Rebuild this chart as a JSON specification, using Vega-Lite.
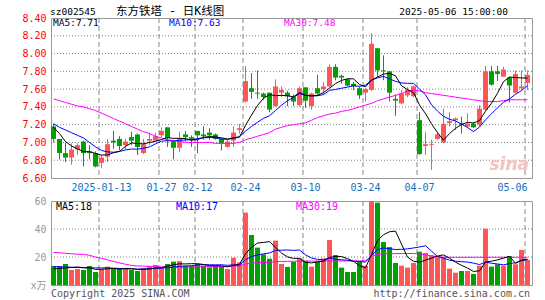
{
"$schema": "https://vega.github.io/schema/vega-lite/v6.json",
"background": "white",
"padding": {"left": 21, "top": 5, "right": 0, "bottom": 0},
"bounds": "flush",
"spacing": 23,
"config": {"view": {"stroke": "#999999", "strokeWidth": 1}, "font": "DejaVu Sans Mono"},
"data": {"values": [
{"d":"2024-12-31","o":7.18,"h":7.21,"l":7.00,"c":7.04,"v":13.6,"m5":7.17,"m10":7.21,"m30":7.49,"vm5":11.5,"vm10":13.1,"vm30":23.3},
{"d":"2025-01-02","o":7.04,"h":7.04,"l":6.81,"c":6.88,"v":13.6,"m5":7.10,"m10":7.17,"m30":7.47,"vm5":11.8,"vm10":13.0,"vm30":23.0},
{"d":"2025-01-03","o":6.88,"h":7.00,"l":6.78,"c":6.83,"v":15.0,"m5":7.01,"m10":7.14,"m30":7.45,"vm5":12.2,"vm10":12.9,"vm30":22.7},
{"d":"2025-01-06","o":6.83,"h":6.99,"l":6.75,"c":6.92,"v":10.7,"m5":6.96,"m10":7.11,"m30":7.43,"vm5":12.5,"vm10":12.7,"vm30":22.3},
{"d":"2025-01-07","o":6.92,"h":6.99,"l":6.86,"c":6.97,"v":11.4,"m5":6.928,"m10":7.08,"m30":7.41,"vm5":12.86,"vm10":12.5,"vm30":22.0},
{"d":"2025-01-08","o":7.01,"h":7.02,"l":6.73,"c":6.88,"v":10.7,"m5":6.896,"m10":7.05,"m30":7.40,"vm5":12.28,"vm10":12.4,"vm30":21.8},
{"d":"2025-01-09","o":6.90,"h":6.97,"l":6.81,"c":6.88,"v":13.6,"m5":6.896,"m10":7.00,"m30":7.38,"vm5":12.28,"vm10":12.3,"vm30":21.2},
{"d":"2025-01-10","o":6.88,"h":6.90,"l":6.72,"c":6.73,"v":9.3,"m5":6.876,"m10":6.95,"m30":7.36,"vm5":11.14,"vm10":12.2,"vm30":20.0},
{"d":"2025-01-13","o":6.77,"h":6.86,"l":6.71,"c":6.83,"v":11.4,"m5":6.858,"m10":6.91,"m30":7.33,"vm5":11.28,"vm10":12.2,"vm30":19.0},
{"d":"2025-01-14","o":6.84,"h":7.04,"l":6.78,"c":6.98,"v":13.1,"m5":6.86,"m10":6.894,"m30":7.30,"vm5":11.62,"vm10":12.24,"vm30":18.0},
{"d":"2025-01-15","o":7.02,"h":7.13,"l":6.93,"c":7.00,"v":11.4,"m5":6.884,"m10":6.89,"m30":7.27,"vm5":11.76,"vm10":12.02,"vm30":16.8},
{"d":"2025-01-16","o":7.04,"h":7.07,"l":6.91,"c":6.96,"v":11.9,"m5":6.90,"m10":6.898,"m30":7.24,"vm5":11.42,"vm10":11.85,"vm30":15.8},
{"d":"2025-01-17","o":6.97,"h":7.04,"l":6.92,"c":7.01,"v":11.4,"m5":6.956,"m10":6.916,"m30":7.21,"vm5":11.84,"vm10":11.49,"vm30":14.8},
{"d":"2025-01-20","o":7.06,"h":7.12,"l":6.97,"c":7.02,"v":10.7,"m5":6.994,"m10":6.926,"m30":7.18,"vm5":11.7,"vm10":11.49,"vm30":14.0},
{"d":"2025-01-21","o":7.09,"h":7.10,"l":6.86,"c":6.95,"v":10.0,"m5":6.988,"m10":6.924,"m30":7.15,"vm5":11.08,"vm10":11.35,"vm30":13.6},
{"d":"2025-01-22","o":6.88,"h":7.04,"l":6.87,"c":6.98,"v":11.9,"m5":6.984,"m10":6.934,"m30":7.12,"vm5":11.18,"vm10":11.47,"vm30":13.5},
{"d":"2025-01-23","o":7.02,"h":7.11,"l":6.97,"c":7.04,"v":13.6,"m5":7.00,"m10":6.95,"m30":7.10,"vm5":11.52,"vm10":11.47,"vm30":13.3},
{"d":"2025-01-24","o":7.02,"h":7.11,"l":7.01,"c":7.07,"v":14.3,"m5":7.012,"m10":6.984,"m30":7.07,"vm5":12.1,"vm10":11.97,"vm30":13.1},
{"d":"2025-01-27","o":7.08,"h":7.17,"l":7.06,"c":7.13,"v":12.6,"m5":7.034,"m10":7.014,"m30":7.05,"vm5":12.48,"vm10":12.09,"vm30":12.9},
{"d":"2025-02-05","o":7.17,"h":7.17,"l":6.95,"c":7.05,"v":15.0,"m5":7.054,"m10":7.021,"m30":7.03,"vm5":13.48,"vm10":12.28,"vm30":12.8},
{"d":"2025-02-06","o":7.01,"h":7.03,"l":6.81,"c":6.94,"v":16.7,"m5":7.046,"m10":7.015,"m30":7.02,"vm5":14.44,"vm10":12.81,"vm30":12.7},
{"d":"2025-02-07","o":6.94,"h":7.12,"l":6.89,"c":7.04,"v":17.1,"m5":7.046,"m10":7.023,"m30":7.01,"vm5":15.14,"vm10":13.33,"vm30":12.6},
{"d":"2025-02-10","o":7.09,"h":7.13,"l":7.01,"c":7.06,"v":13.8,"m5":7.044,"m10":7.028,"m30":7.00,"vm5":15.04,"vm10":13.57,"vm30":12.7},
{"d":"2025-02-11","o":7.06,"h":7.08,"l":6.95,"c":7.04,"v":13.6,"m5":7.026,"m10":7.03,"m30":7.00,"vm5":15.24,"vm10":13.86,"vm30":12.8},
{"d":"2025-02-12","o":7.13,"h":7.13,"l":6.88,"c":7.08,"v":15.0,"m5":7.032,"m10":7.043,"m30":7.00,"vm5":15.24,"vm10":14.36,"vm30":12.9},
{"d":"2025-02-13","o":7.09,"h":7.18,"l":7.03,"c":7.07,"v":13.8,"m5":7.058,"m10":7.052,"m30":7.00,"vm5":14.66,"vm10":14.55,"vm30":13.0},
{"d":"2025-02-14","o":7.11,"h":7.16,"l":7.03,"c":7.08,"v":12.6,"m5":7.066,"m10":7.056,"m30":7.00,"vm5":13.76,"vm10":14.45,"vm30":13.1},
{"d":"2025-02-17","o":7.09,"h":7.10,"l":7.03,"c":7.04,"v":13.8,"m5":7.062,"m10":7.053,"m30":6.99,"vm5":13.76,"vm10":14.4,"vm30":13.1},
{"d":"2025-02-18","o":7.04,"h":7.04,"l":6.91,"c":6.99,"v":13.1,"m5":7.052,"m10":7.039,"m30":6.99,"vm5":13.66,"vm10":14.45,"vm30":13.2},
{"d":"2025-02-19","o":6.95,"h":7.03,"l":6.94,"c":7.01,"v":11.4,"m5":7.038,"m10":7.035,"m30":6.99,"vm5":12.94,"vm10":14.09,"vm30":13.3},
{"d":"2025-02-20","o":7.02,"h":7.18,"l":6.95,"c":7.11,"v":19.5,"m5":7.046,"m10":7.052,"m30":6.99,"vm5":14.08,"vm10":14.37,"vm30":13.5},
{"d":"2025-02-21","o":7.14,"h":7.21,"l":7.10,"c":7.16,"v":16.2,"m5":7.062,"m10":7.064,"m30":7.00,"vm5":14.8,"vm10":14.28,"vm30":13.6},
{"d":"2025-02-24","o":7.46,"h":7.86,"l":7.45,"c":7.69,"v":51.7,"m5":7.192,"m10":7.127,"m30":7.03,"vm5":22.38,"vm10":18.07,"vm30":15.0},
{"d":"2025-02-25","o":7.61,"h":7.78,"l":7.49,"c":7.57,"v":35.7,"m5":7.308,"m10":7.18,"m30":7.05,"vm5":26.9,"vm10":20.28,"vm30":15.6},
{"d":"2025-02-26","o":7.56,"h":7.81,"l":7.49,"c":7.55,"v":26.7,"m5":7.416,"m10":7.227,"m30":7.07,"vm5":29.96,"vm10":21.45,"vm30":15.9},
{"d":"2025-02-27","o":7.55,"h":7.56,"l":7.48,"c":7.51,"v":21.9,"m5":7.496,"m10":7.271,"m30":7.09,"vm5":30.44,"vm10":22.26,"vm30":16.1},
{"d":"2025-02-28","o":7.56,"h":7.56,"l":7.34,"c":7.37,"v":18.8,"m5":7.538,"m10":7.30,"m30":7.11,"vm5":30.96,"vm10":22.88,"vm30":16.3},
{"d":"2025-03-03","o":7.41,"h":7.71,"l":7.40,"c":7.63,"v":31.7,"m5":7.526,"m10":7.359,"m30":7.15,"vm5":26.96,"vm10":24.67,"vm30":16.6},
{"d":"2025-03-04","o":7.56,"h":7.63,"l":7.51,"c":7.59,"v":15.0,"m5":7.53,"m10":7.419,"m30":7.17,"vm5":22.82,"vm10":24.86,"vm30":16.8},
{"d":"2025-03-05","o":7.56,"h":7.58,"l":7.41,"c":7.52,"v":12.9,"m5":7.524,"m10":7.47,"m30":7.19,"vm5":20.06,"vm10":25.01,"vm30":16.9},
{"d":"2025-03-06","o":7.51,"h":7.54,"l":7.41,"c":7.46,"v":16.5,"m5":7.514,"m10":7.505,"m30":7.20,"vm5":18.98,"vm10":24.71,"vm30":17.0},
{"d":"2025-03-07","o":7.42,"h":7.63,"l":7.40,"c":7.61,"v":19.0,"m5":7.562,"m10":7.55,"m30":7.21,"vm5":19.02,"vm10":24.99,"vm30":17.0},
{"d":"2025-03-10","o":7.62,"h":7.62,"l":7.39,"c":7.47,"v":17.4,"m5":7.53,"m10":7.528,"m30":7.22,"vm5":16.16,"vm10":21.56,"vm30":17.0},
{"d":"2025-03-11","o":7.41,"h":7.56,"l":7.37,"c":7.55,"v":13.1,"m5":7.522,"m10":7.526,"m30":7.25,"vm5":15.78,"vm10":19.3,"vm30":17.0},
{"d":"2025-03-12","o":7.61,"h":7.76,"l":7.52,"c":7.55,"v":16.7,"m5":7.528,"m10":7.526,"m30":7.28,"vm5":16.54,"vm10":18.3,"vm30":17.1},
{"d":"2025-03-13","o":7.60,"h":7.68,"l":7.54,"c":7.63,"v":19.0,"m5":7.562,"m10":7.538,"m30":7.30,"vm5":17.04,"vm10":18.01,"vm30":17.1},
{"d":"2025-03-14","o":7.63,"h":7.88,"l":7.62,"c":7.85,"v":32.1,"m5":7.61,"m10":7.586,"m30":7.32,"vm5":19.66,"vm10":19.34,"vm30":17.2},
{"d":"2025-03-17","o":7.85,"h":7.88,"l":7.70,"c":7.73,"v":21.4,"m5":7.662,"m10":7.596,"m30":7.33,"vm5":20.46,"vm10":18.31,"vm30":17.2},
{"d":"2025-03-18","o":7.75,"h":7.76,"l":7.66,"c":7.73,"v":12.4,"m5":7.698,"m10":7.61,"m30":7.35,"vm5":20.32,"vm10":18.05,"vm30":17.2},
{"d":"2025-03-19","o":7.71,"h":7.72,"l":7.63,"c":7.64,"v":9.3,"m5":7.716,"m10":7.622,"m30":7.36,"vm5":18.84,"vm10":17.69,"vm30":17.2},
{"d":"2025-03-20","o":7.66,"h":7.68,"l":7.59,"c":7.63,"v":9.3,"m5":7.716,"m10":7.639,"m30":7.38,"vm5":16.9,"vm10":16.97,"vm30":17.2},
{"d":"2025-03-21","o":7.61,"h":7.63,"l":7.49,"c":7.53,"v":16.7,"m5":7.652,"m10":7.631,"m30":7.40,"vm5":13.82,"vm10":16.74,"vm30":17.2},
{"d":"2025-03-24","o":7.56,"h":7.61,"l":7.46,"c":7.60,"v":13.6,"m5":7.626,"m10":7.644,"m30":7.42,"vm5":12.26,"vm10":16.36,"vm30":17.3},
{"d":"2025-03-25","o":7.59,"h":8.23,"l":7.58,"c":8.11,"v":60,"m5":7.702,"m10":7.70,"m30":7.44,"vm5":21.78,"vm10":21.05,"vm30":20.5},
{"d":"2025-03-26","o":8.06,"h":8.06,"l":7.74,"c":7.81,"v":58.8,"m5":7.736,"m10":7.726,"m30":7.47,"vm5":31.68,"vm10":25.26,"vm30":22.0},
{"d":"2025-03-27","o":7.81,"h":7.98,"l":7.70,"c":7.80,"v":30.7,"m5":7.77,"m10":7.743,"m30":7.49,"vm5":35.96,"vm10":26.43,"vm30":22.3},
{"d":"2025-03-28","o":7.80,"h":7.80,"l":7.46,"c":7.56,"v":27.1,"m5":7.776,"m10":7.714,"m30":7.51,"vm5":38.04,"vm10":25.93,"vm30":22.4},
{"d":"2025-03-31","o":7.49,"h":7.54,"l":7.30,"c":7.47,"v":15.7,"m5":7.75,"m10":7.688,"m30":7.53,"vm5":38.46,"vm10":25.36,"vm30":22.4},
{"d":"2025-04-01","o":7.44,"h":7.59,"l":7.43,"c":7.55,"v":13.8,"m5":7.638,"m10":7.67,"m30":7.55,"vm5":29.22,"vm10":25.5,"vm30":22.5},
{"d":"2025-04-02","o":7.53,"h":7.62,"l":7.51,"c":7.59,"v":12.4,"m5":7.594,"m10":7.665,"m30":7.58,"vm5":19.94,"vm10":25.81,"vm30":22.5},
{"d":"2025-04-03","o":7.52,"h":7.64,"l":7.51,"c":7.63,"v":15.7,"m5":7.56,"m10":7.665,"m30":7.59,"vm5":16.94,"vm10":26.45,"vm30":22.5},
{"d":"2025-04-07","o":7.25,"h":7.34,"l":6.86,"c":6.87,"v":23.8,"m5":7.422,"m10":7.599,"m30":7.58,"vm5":16.28,"vm10":27.16,"vm30":22.3},
{"d":"2025-04-08","o":6.96,"h":7.12,"l":6.86,"c":6.98,"v":22.9,"m5":7.324,"m10":7.537,"m30":7.56,"vm5":17.72,"vm10":28.09,"vm30":21.5},
{"d":"2025-04-09","o":6.97,"h":7.03,"l":6.69,"c":6.98,"v":21.2,"m5":7.21,"m10":7.424,"m30":7.55,"vm5":19.2,"vm10":24.21,"vm30":20.8},
{"d":"2025-04-10","o":7.04,"h":7.12,"l":7.03,"c":7.09,"v":19.8,"m5":7.11,"m10":7.352,"m30":7.54,"vm5":20.68,"vm10":20.31,"vm30":20.2},
{"d":"2025-04-11","o":7.00,"h":7.38,"l":6.99,"c":7.21,"v":20.0,"m5":7.026,"m10":7.293,"m30":7.53,"vm5":21.54,"vm10":19.24,"vm30":19.9},
{"d":"2025-04-14","o":7.22,"h":7.34,"l":7.18,"c":7.24,"v":11.7,"m5":7.10,"m10":7.261,"m30":7.52,"vm5":19.12,"vm10":17.7,"vm30":19.8},
{"d":"2025-04-15","o":7.25,"h":7.28,"l":7.14,"c":7.27,"v":8.8,"m5":7.158,"m10":7.241,"m30":7.51,"vm5":16.3,"vm10":17.01,"vm30":19.8},
{"d":"2025-04-16","o":7.21,"h":7.29,"l":7.10,"c":7.20,"v":10.0,"m5":7.202,"m10":7.206,"m30":7.50,"vm5":14.06,"vm10":16.63,"vm30":19.8},
{"d":"2025-04-17","o":7.18,"h":7.33,"l":7.16,"c":7.21,"v":10.0,"m5":7.226,"m10":7.168,"m30":7.49,"vm5":12.1,"vm10":16.39,"vm30":19.8},
{"d":"2025-04-18","o":7.21,"h":7.23,"l":7.16,"c":7.17,"v":7.9,"m5":7.218,"m10":7.122,"m30":7.48,"vm5":9.68,"vm10":15.61,"vm30":19.8},
{"d":"2025-04-21","o":7.20,"h":7.42,"l":7.18,"c":7.38,"v":13.8,"m5":7.246,"m10":7.173,"m30":7.47,"vm5":10.1,"vm10":14.61,"vm30":19.8},
{"d":"2025-04-22","o":7.37,"h":7.86,"l":7.36,"c":7.80,"v":40.2,"m5":7.352,"m10":7.255,"m30":7.46,"vm5":16.38,"vm10":16.34,"vm30":19.8},
{"d":"2025-04-23","o":7.80,"h":7.86,"l":7.64,"c":7.65,"v":13.1,"m5":7.442,"m10":7.322,"m30":7.46,"vm5":17.0,"vm10":15.53,"vm30":19.8},
{"d":"2025-04-24","o":7.80,"h":7.86,"l":7.69,"c":7.77,"v":14.8,"m5":7.554,"m10":7.39,"m30":7.46,"vm5":17.96,"vm10":15.03,"vm30":19.8},
{"d":"2025-04-25","o":7.74,"h":7.85,"l":7.74,"c":7.82,"v":13.8,"m5":7.684,"m10":7.451,"m30":7.47,"vm5":19.14,"vm10":14.41,"vm30":19.8},
{"d":"2025-04-28","o":7.73,"h":7.74,"l":7.45,"c":7.64,"v":20.7,"m5":7.736,"m10":7.491,"m30":7.48,"vm5":20.52,"vm10":15.31,"vm30":19.8},
{"d":"2025-04-29","o":7.56,"h":7.81,"l":7.55,"c":7.77,"v":14.8,"m5":7.73,"m10":7.541,"m30":7.48,"vm5":15.44,"vm10":15.91,"vm30":19.8},
{"d":"2025-04-30","o":7.61,"h":7.81,"l":7.59,"c":7.63,"v":25.0,"m5":7.726,"m10":7.584,"m30":7.48,"vm5":17.82,"vm10":17.41,"vm30":19.8},
{"d":"2025-05-06","o":7.67,"h":7.81,"l":7.59,"c":7.76,"v":17.9,"m5":7.724,"m10":7.639,"m30":7.48,"vm5":18.44,"vm10":18.2,"vm30":19.8}
]},
"vconcat": [
{
"width": 481, "height": 160,
"layer": [
 {"data": {"values": [{"d":"2025-01-13"},{"d":"2025-01-27"},{"d":"2025-02-12"},{"d":"2025-02-24"},{"d":"2025-03-10"},{"d":"2025-03-24"},{"d":"2025-04-07"},{"d":"2025-05-06"}]},
  "mark": {"type": "rule", "color": "#888888", "strokeDash": [5, 3], "strokeWidth": 1},
  "encoding": {"x": {"field": "d", "type": "ordinal", "bandPosition": 0, "scale": {"paddingInner": 0.1667, "paddingOuter": 0.1667, "align": 0}, "axis": {"title": null, "values": ["2025-01-13","2025-01-27","2025-02-12","2025-02-24","2025-03-10","2025-03-24","2025-04-07","2025-05-06"], "bandPosition": 0, "labelExpr": "datum.value == '2025-01-13' ? datum.value : slice(datum.value, 5)", "labelAngle": 0, "labelAlign": {"condition": {"test": "datum.value == '2025-05-06'", "value": "right"}, "value": "center"}, "labelColor": "#1070c0", "labelFont": "DejaVu Sans Mono", "labelFontSize": 10, "labelPadding": 4, "ticks": false, "domain": false, "grid": false, "labelOverlap": false, "labelBound": false, "labelFlush": false}}}},
 {"data": {"values": [{"g":6.8},{"g":7.0},{"g":7.2},{"g":7.4},{"g":7.6},{"g":7.8},{"g":8.0},{"g":8.2}]},
  "mark": {"type": "rule", "color": "#808080", "strokeDash": [1, 2], "strokeWidth": 1},
  "encoding": {"y": {"field": "g", "type": "quantitative", "scale": {"domain": [6.6, 8.4], "nice": false, "zero": false},
     "axis": {"title": null, "values": [6.6,6.8,7.0,7.2,7.4,7.6,7.8,8.0,8.2,8.4], "format": ".2f", "labelColor": "#ff0000", "labelFont": "DejaVu Sans Mono", "labelFontSize": 10, "labelPadding": 5, "ticks": false, "domain": false, "grid": false, "labelOverlap": false}}}},
 {"mark": {"type": "rule", "strokeWidth": 1},
  "encoding": {"x": {"field": "d", "type": "ordinal", "scale": {"paddingInner": 0.1667, "paddingOuter": 0.1667, "align": 0}, "axis": {"title": null, "values": ["2025-01-13","2025-01-27","2025-02-12","2025-02-24","2025-03-10","2025-03-24","2025-04-07","2025-05-06"], "bandPosition": 0, "labelExpr": "datum.value == '2025-01-13' ? datum.value : slice(datum.value, 5)", "labelAngle": 0, "labelAlign": {"condition": {"test": "datum.value == '2025-05-06'", "value": "right"}, "value": "center"}, "labelColor": "#1070c0", "labelFont": "DejaVu Sans Mono", "labelFontSize": 10, "labelPadding": 4, "ticks": false, "domain": false, "grid": false, "labelOverlap": false, "labelBound": false, "labelFlush": false}},
   "y": {"field": "l", "type": "quantitative", "scale": {"domain": [6.6, 8.4], "nice": false, "zero": false},
     "axis": {"title": null, "values": [6.6,6.8,7.0,7.2,7.4,7.6,7.8,8.0,8.2,8.4], "format": ".2f", "labelColor": "#ff0000", "labelFont": "DejaVu Sans Mono", "labelFontSize": 10, "labelPadding": 5, "ticks": false, "domain": false, "grid": false, "labelOverlap": false}},
   "y2": {"field": "h"},
   "color": {"condition": {"test": "datum.c >= datum.o", "value": "#ff5555"}, "value": "#00a000"}}},
 {"mark": {"type": "bar"},
  "encoding": {"x": {"field": "d", "type": "ordinal", "scale": {"paddingInner": 0.1667, "paddingOuter": 0.1667, "align": 0}, "axis": {"title": null, "values": ["2025-01-13","2025-01-27","2025-02-12","2025-02-24","2025-03-10","2025-03-24","2025-04-07","2025-05-06"], "bandPosition": 0, "labelExpr": "datum.value == '2025-01-13' ? datum.value : slice(datum.value, 5)", "labelAngle": 0, "labelAlign": {"condition": {"test": "datum.value == '2025-05-06'", "value": "right"}, "value": "center"}, "labelColor": "#1070c0", "labelFont": "DejaVu Sans Mono", "labelFontSize": 10, "labelPadding": 4, "ticks": false, "domain": false, "grid": false, "labelOverlap": false, "labelBound": false, "labelFlush": false}},
   "y": {"field": "o", "type": "quantitative", "scale": {"domain": [6.6, 8.4], "nice": false, "zero": false},
     "axis": {"title": null, "values": [6.6,6.8,7.0,7.2,7.4,7.6,7.8,8.0,8.2,8.4], "format": ".2f", "labelColor": "#ff0000", "labelFont": "DejaVu Sans Mono", "labelFontSize": 10, "labelPadding": 5, "ticks": false, "domain": false, "grid": false, "labelOverlap": false}},
   "y2": {"field": "c"},
   "color": {"condition": {"test": "datum.c >= datum.o", "value": "#ff5555"}, "value": "#00a000"}}},
 {"mark": {"type": "line", "color": "#ff00ff", "strokeWidth": 1},
  "encoding": {"x": {"field": "d", "type": "ordinal", "scale": {"paddingInner": 0.1667, "paddingOuter": 0.1667, "align": 0}, "axis": {"title": null, "values": ["2025-01-13","2025-01-27","2025-02-12","2025-02-24","2025-03-10","2025-03-24","2025-04-07","2025-05-06"], "bandPosition": 0, "labelExpr": "datum.value == '2025-01-13' ? datum.value : slice(datum.value, 5)", "labelAngle": 0, "labelAlign": {"condition": {"test": "datum.value == '2025-05-06'", "value": "right"}, "value": "center"}, "labelColor": "#1070c0", "labelFont": "DejaVu Sans Mono", "labelFontSize": 10, "labelPadding": 4, "ticks": false, "domain": false, "grid": false, "labelOverlap": false, "labelBound": false, "labelFlush": false}},
   "y": {"field": "m30", "type": "quantitative", "scale": {"domain": [6.6, 8.4], "nice": false, "zero": false},
     "axis": {"title": null, "values": [6.6,6.8,7.0,7.2,7.4,7.6,7.8,8.0,8.2,8.4], "format": ".2f", "labelColor": "#ff0000", "labelFont": "DejaVu Sans Mono", "labelFontSize": 10, "labelPadding": 5, "ticks": false, "domain": false, "grid": false, "labelOverlap": false}}}},
 {"mark": {"type": "line", "color": "#0000ff", "strokeWidth": 1},
  "encoding": {"x": {"field": "d", "type": "ordinal", "scale": {"paddingInner": 0.1667, "paddingOuter": 0.1667, "align": 0}, "axis": {"title": null, "values": ["2025-01-13","2025-01-27","2025-02-12","2025-02-24","2025-03-10","2025-03-24","2025-04-07","2025-05-06"], "bandPosition": 0, "labelExpr": "datum.value == '2025-01-13' ? datum.value : slice(datum.value, 5)", "labelAngle": 0, "labelAlign": {"condition": {"test": "datum.value == '2025-05-06'", "value": "right"}, "value": "center"}, "labelColor": "#1070c0", "labelFont": "DejaVu Sans Mono", "labelFontSize": 10, "labelPadding": 4, "ticks": false, "domain": false, "grid": false, "labelOverlap": false, "labelBound": false, "labelFlush": false}},
   "y": {"field": "m10", "type": "quantitative", "scale": {"domain": [6.6, 8.4], "nice": false, "zero": false},
     "axis": {"title": null, "values": [6.6,6.8,7.0,7.2,7.4,7.6,7.8,8.0,8.2,8.4], "format": ".2f", "labelColor": "#ff0000", "labelFont": "DejaVu Sans Mono", "labelFontSize": 10, "labelPadding": 5, "ticks": false, "domain": false, "grid": false, "labelOverlap": false}}}},
 {"mark": {"type": "line", "color": "#000000", "strokeWidth": 1},
  "encoding": {"x": {"field": "d", "type": "ordinal", "scale": {"paddingInner": 0.1667, "paddingOuter": 0.1667, "align": 0}, "axis": {"title": null, "values": ["2025-01-13","2025-01-27","2025-02-12","2025-02-24","2025-03-10","2025-03-24","2025-04-07","2025-05-06"], "bandPosition": 0, "labelExpr": "datum.value == '2025-01-13' ? datum.value : slice(datum.value, 5)", "labelAngle": 0, "labelAlign": {"condition": {"test": "datum.value == '2025-05-06'", "value": "right"}, "value": "center"}, "labelColor": "#1070c0", "labelFont": "DejaVu Sans Mono", "labelFontSize": 10, "labelPadding": 4, "ticks": false, "domain": false, "grid": false, "labelOverlap": false, "labelBound": false, "labelFlush": false}},
   "y": {"field": "m5", "type": "quantitative", "scale": {"domain": [6.6, 8.4], "nice": false, "zero": false},
     "axis": {"title": null, "values": [6.6,6.8,7.0,7.2,7.4,7.6,7.8,8.0,8.2,8.4], "format": ".2f", "labelColor": "#ff0000", "labelFont": "DejaVu Sans Mono", "labelFontSize": 10, "labelPadding": 5, "ticks": false, "domain": false, "grid": false, "labelOverlap": false}}}},
 {"data": {"values": [{}]}, "mark": {"type": "text", "align": "left", "baseline": "alphabetic", "dx": -1, "dy": -3, "fontSize": 9.5, "font": "DejaVu Sans Mono", "color": "#000000"},
  "encoding": {"x": {"datum": "2024-12-31", "type": "ordinal", "bandPosition": 0, "axis": {"title": null, "values": ["2025-01-13","2025-01-27","2025-02-12","2025-02-24","2025-03-10","2025-03-24","2025-04-07","2025-05-06"], "bandPosition": 0, "labelExpr": "datum.value == '2025-01-13' ? datum.value : slice(datum.value, 5)", "labelAngle": 0, "labelAlign": {"condition": {"test": "datum.value == '2025-05-06'", "value": "right"}, "value": "center"}, "labelColor": "#1070c0", "labelFont": "DejaVu Sans Mono", "labelFontSize": 10, "labelPadding": 4, "ticks": false, "domain": false, "grid": false, "labelOverlap": false, "labelBound": false, "labelFlush": false}},
   "y": {"datum": 8.4, "type": "quantitative", "axis": {"title": null, "values": [6.6,6.8,7.0,7.2,7.4,7.6,7.8,8.0,8.2,8.4], "format": ".2f", "labelColor": "#ff0000", "labelFont": "DejaVu Sans Mono", "labelFontSize": 10, "labelPadding": 5, "ticks": false, "domain": false, "grid": false, "labelOverlap": false}}, "text": {"value": "sz002545"}}},
 {"data": {"values": [{}]}, "mark": {"type": "text", "align": "left", "baseline": "alphabetic", "dx": -1, "dy": -3, "fontSize": 11.5, "font": "DejaVu Sans Mono, Noto Sans CJK SC", "color": "#000000"},
  "encoding": {"x": {"datum": "2025-01-16", "type": "ordinal", "bandPosition": 0, "axis": {"title": null, "values": ["2025-01-13","2025-01-27","2025-02-12","2025-02-24","2025-03-10","2025-03-24","2025-04-07","2025-05-06"], "bandPosition": 0, "labelExpr": "datum.value == '2025-01-13' ? datum.value : slice(datum.value, 5)", "labelAngle": 0, "labelAlign": {"condition": {"test": "datum.value == '2025-05-06'", "value": "right"}, "value": "center"}, "labelColor": "#1070c0", "labelFont": "DejaVu Sans Mono", "labelFontSize": 10, "labelPadding": 4, "ticks": false, "domain": false, "grid": false, "labelOverlap": false, "labelBound": false, "labelFlush": false}},
   "y": {"datum": 8.4, "type": "quantitative", "axis": {"title": null, "values": [6.6,6.8,7.0,7.2,7.4,7.6,7.8,8.0,8.2,8.4], "format": ".2f", "labelColor": "#ff0000", "labelFont": "DejaVu Sans Mono", "labelFontSize": 10, "labelPadding": 5, "ticks": false, "domain": false, "grid": false, "labelOverlap": false}}, "text": {"value": "东方铁塔 - 日K线图"}}},
 {"data": {"values": [{}]}, "mark": {"type": "text", "align": "right", "baseline": "alphabetic", "dx": 1, "dy": -3, "fontSize": 9.5, "font": "DejaVu Sans Mono", "color": "#000000"},
  "encoding": {"x": {"datum": "2025-04-28", "type": "ordinal", "bandPosition": 0, "axis": {"title": null, "values": ["2025-01-13","2025-01-27","2025-02-12","2025-02-24","2025-03-10","2025-03-24","2025-04-07","2025-05-06"], "bandPosition": 0, "labelExpr": "datum.value == '2025-01-13' ? datum.value : slice(datum.value, 5)", "labelAngle": 0, "labelAlign": {"condition": {"test": "datum.value == '2025-05-06'", "value": "right"}, "value": "center"}, "labelColor": "#1070c0", "labelFont": "DejaVu Sans Mono", "labelFontSize": 10, "labelPadding": 4, "ticks": false, "domain": false, "grid": false, "labelOverlap": false, "labelBound": false, "labelFlush": false}},
   "y": {"datum": 8.4, "type": "quantitative", "axis": {"title": null, "values": [6.6,6.8,7.0,7.2,7.4,7.6,7.8,8.0,8.2,8.4], "format": ".2f", "labelColor": "#ff0000", "labelFont": "DejaVu Sans Mono", "labelFontSize": 10, "labelPadding": 5, "ticks": false, "domain": false, "grid": false, "labelOverlap": false}}, "text": {"value": "2025-05-06 15:00:00"}}},
 {"data": {"values": [{}]}, "mark": {"type": "text", "align": "left", "baseline": "alphabetic", "dx": 2, "dy": 8, "fontSize": 9.5, "font": "DejaVu Sans Mono", "color": "#000000"},
  "encoding": {"x": {"datum": "2024-12-31", "type": "ordinal", "bandPosition": 0, "axis": {"title": null, "values": ["2025-01-13","2025-01-27","2025-02-12","2025-02-24","2025-03-10","2025-03-24","2025-04-07","2025-05-06"], "bandPosition": 0, "labelExpr": "datum.value == '2025-01-13' ? datum.value : slice(datum.value, 5)", "labelAngle": 0, "labelAlign": {"condition": {"test": "datum.value == '2025-05-06'", "value": "right"}, "value": "center"}, "labelColor": "#1070c0", "labelFont": "DejaVu Sans Mono", "labelFontSize": 10, "labelPadding": 4, "ticks": false, "domain": false, "grid": false, "labelOverlap": false, "labelBound": false, "labelFlush": false}},
   "y": {"datum": 8.4, "type": "quantitative", "axis": {"title": null, "values": [6.6,6.8,7.0,7.2,7.4,7.6,7.8,8.0,8.2,8.4], "format": ".2f", "labelColor": "#ff0000", "labelFont": "DejaVu Sans Mono", "labelFontSize": 10, "labelPadding": 5, "ticks": false, "domain": false, "grid": false, "labelOverlap": false}}, "text": {"value": "MA5:7.71"}}},
 {"data": {"values": [{}]}, "mark": {"type": "text", "align": "left", "baseline": "alphabetic", "dx": -2, "dy": 8, "fontSize": 9.5, "font": "DejaVu Sans Mono", "color": "#0000ff"},
  "encoding": {"x": {"datum": "2025-02-06", "type": "ordinal", "bandPosition": 0, "axis": {"title": null, "values": ["2025-01-13","2025-01-27","2025-02-12","2025-02-24","2025-03-10","2025-03-24","2025-04-07","2025-05-06"], "bandPosition": 0, "labelExpr": "datum.value == '2025-01-13' ? datum.value : slice(datum.value, 5)", "labelAngle": 0, "labelAlign": {"condition": {"test": "datum.value == '2025-05-06'", "value": "right"}, "value": "center"}, "labelColor": "#1070c0", "labelFont": "DejaVu Sans Mono", "labelFontSize": 10, "labelPadding": 4, "ticks": false, "domain": false, "grid": false, "labelOverlap": false, "labelBound": false, "labelFlush": false}},
   "y": {"datum": 8.4, "type": "quantitative", "axis": {"title": null, "values": [6.6,6.8,7.0,7.2,7.4,7.6,7.8,8.0,8.2,8.4], "format": ".2f", "labelColor": "#ff0000", "labelFont": "DejaVu Sans Mono", "labelFontSize": 10, "labelPadding": 5, "ticks": false, "domain": false, "grid": false, "labelOverlap": false}}, "text": {"value": "MA10:7.63"}}},
 {"data": {"values": [{}]}, "mark": {"type": "text", "align": "left", "baseline": "alphabetic", "dx": -1, "dy": 8, "fontSize": 9.5, "font": "DejaVu Sans Mono", "color": "#ff00ff"},
  "encoding": {"x": {"datum": "2025-03-05", "type": "ordinal", "bandPosition": 0, "axis": {"title": null, "values": ["2025-01-13","2025-01-27","2025-02-12","2025-02-24","2025-03-10","2025-03-24","2025-04-07","2025-05-06"], "bandPosition": 0, "labelExpr": "datum.value == '2025-01-13' ? datum.value : slice(datum.value, 5)", "labelAngle": 0, "labelAlign": {"condition": {"test": "datum.value == '2025-05-06'", "value": "right"}, "value": "center"}, "labelColor": "#1070c0", "labelFont": "DejaVu Sans Mono", "labelFontSize": 10, "labelPadding": 4, "ticks": false, "domain": false, "grid": false, "labelOverlap": false, "labelBound": false, "labelFlush": false}},
   "y": {"datum": 8.4, "type": "quantitative", "axis": {"title": null, "values": [6.6,6.8,7.0,7.2,7.4,7.6,7.8,8.0,8.2,8.4], "format": ".2f", "labelColor": "#ff0000", "labelFont": "DejaVu Sans Mono", "labelFontSize": 10, "labelPadding": 5, "ticks": false, "domain": false, "grid": false, "labelOverlap": false}}, "text": {"value": "MA30:7.48"}}},
 {"data": {"values": [{}]}, "mark": {"type": "text", "align": "right", "baseline": "alphabetic", "dx": 4, "dy": -8, "fontSize": 17, "font": "DejaVu Sans", "fontStyle": "italic", "fontWeight": "bold", "color": "#f2c4c4"},
  "encoding": {"x": {"datum": "2025-05-06", "type": "ordinal", "bandPosition": 0, "axis": {"title": null, "values": ["2025-01-13","2025-01-27","2025-02-12","2025-02-24","2025-03-10","2025-03-24","2025-04-07","2025-05-06"], "bandPosition": 0, "labelExpr": "datum.value == '2025-01-13' ? datum.value : slice(datum.value, 5)", "labelAngle": 0, "labelAlign": {"condition": {"test": "datum.value == '2025-05-06'", "value": "right"}, "value": "center"}, "labelColor": "#1070c0", "labelFont": "DejaVu Sans Mono", "labelFontSize": 10, "labelPadding": 4, "ticks": false, "domain": false, "grid": false, "labelOverlap": false, "labelBound": false, "labelFlush": false}},
   "y": {"datum": 6.6, "type": "quantitative", "axis": {"title": null, "values": [6.6,6.8,7.0,7.2,7.4,7.6,7.8,8.0,8.2,8.4], "format": ".2f", "labelColor": "#ff0000", "labelFont": "DejaVu Sans Mono", "labelFontSize": 10, "labelPadding": 5, "ticks": false, "domain": false, "grid": false, "labelOverlap": false}}, "text": {"value": "sina"}}}
]
},
{
"width": 481, "height": 84,
"layer": [
 {"data": {"values": [{"d":"2025-01-13"},{"d":"2025-01-27"},{"d":"2025-02-12"},{"d":"2025-02-24"},{"d":"2025-03-10"},{"d":"2025-03-24"},{"d":"2025-04-07"},{"d":"2025-05-06"}]},
  "mark": {"type": "rule", "color": "#888888", "strokeDash": [5, 3], "strokeWidth": 1},
  "encoding": {"x": {"field": "d", "type": "ordinal", "bandPosition": 0, "scale": {"paddingInner": 0.1667, "paddingOuter": 0.1667, "align": 0}, "axis": {"title": null, "values": ["2025-01-13"], "bandPosition": 0, "labels": false, "ticks": false, "domain": false, "grid": false}}}},
 {"data": {"values": [{"g":20},{"g":40}]},
  "mark": {"type": "rule", "color": "#808080", "strokeDash": [1, 2], "strokeWidth": 1},
  "encoding": {"y": {"field": "g", "type": "quantitative", "scale": {"domain": [0, 60], "nice": false},
     "axis": {"title": null, "values": [0, 20, 40, 60], "labelExpr": "datum.value == 0 ? 'x万' : datum.label", "labelColor": "#999999", "labelFont": "DejaVu Sans Mono, Noto Sans CJK SC", "labelFontSize": 10, "labelPadding": 5, "ticks": false, "domain": false, "grid": false, "labelOverlap": false}}}},
 {"mark": {"type": "bar"},
  "encoding": {"x": {"field": "d", "type": "ordinal", "scale": {"paddingInner": 0.1667, "paddingOuter": 0.1667, "align": 0}, "axis": {"title": null, "values": ["2025-01-13"], "bandPosition": 0, "labels": false, "ticks": false, "domain": false, "grid": false}},
   "y": {"field": "v", "type": "quantitative", "scale": {"domain": [0, 60], "nice": false},
     "axis": {"title": null, "values": [0, 20, 40, 60], "labelExpr": "datum.value == 0 ? 'x万' : datum.label", "labelColor": "#999999", "labelFont": "DejaVu Sans Mono, Noto Sans CJK SC", "labelFontSize": 10, "labelPadding": 5, "ticks": false, "domain": false, "grid": false, "labelOverlap": false}},
   "color": {"condition": {"test": "datum.c >= datum.o", "value": "#ff5555"}, "value": "#00a000"}}},
 {"mark": {"type": "line", "color": "#ff00ff", "strokeWidth": 1},
  "encoding": {"x": {"field": "d", "type": "ordinal", "scale": {"paddingInner": 0.1667, "paddingOuter": 0.1667, "align": 0}, "axis": {"title": null, "values": ["2025-01-13"], "bandPosition": 0, "labels": false, "ticks": false, "domain": false, "grid": false}},
   "y": {"field": "vm30", "type": "quantitative", "scale": {"domain": [0, 60], "nice": false},
     "axis": {"title": null, "values": [0, 20, 40, 60], "labelExpr": "datum.value == 0 ? 'x万' : datum.label", "labelColor": "#999999", "labelFont": "DejaVu Sans Mono, Noto Sans CJK SC", "labelFontSize": 10, "labelPadding": 5, "ticks": false, "domain": false, "grid": false, "labelOverlap": false}}}},
 {"mark": {"type": "line", "color": "#0000ff", "strokeWidth": 1},
  "encoding": {"x": {"field": "d", "type": "ordinal", "scale": {"paddingInner": 0.1667, "paddingOuter": 0.1667, "align": 0}, "axis": {"title": null, "values": ["2025-01-13"], "bandPosition": 0, "labels": false, "ticks": false, "domain": false, "grid": false}},
   "y": {"field": "vm10", "type": "quantitative", "scale": {"domain": [0, 60], "nice": false},
     "axis": {"title": null, "values": [0, 20, 40, 60], "labelExpr": "datum.value == 0 ? 'x万' : datum.label", "labelColor": "#999999", "labelFont": "DejaVu Sans Mono, Noto Sans CJK SC", "labelFontSize": 10, "labelPadding": 5, "ticks": false, "domain": false, "grid": false, "labelOverlap": false}}}},
 {"mark": {"type": "line", "color": "#000000", "strokeWidth": 1},
  "encoding": {"x": {"field": "d", "type": "ordinal", "scale": {"paddingInner": 0.1667, "paddingOuter": 0.1667, "align": 0}, "axis": {"title": null, "values": ["2025-01-13"], "bandPosition": 0, "labels": false, "ticks": false, "domain": false, "grid": false}},
   "y": {"field": "vm5", "type": "quantitative", "scale": {"domain": [0, 60], "nice": false},
     "axis": {"title": null, "values": [0, 20, 40, 60], "labelExpr": "datum.value == 0 ? 'x万' : datum.label", "labelColor": "#999999", "labelFont": "DejaVu Sans Mono, Noto Sans CJK SC", "labelFontSize": 10, "labelPadding": 5, "ticks": false, "domain": false, "grid": false, "labelOverlap": false}}}},
 {"data": {"values": [{}]}, "mark": {"type": "text", "align": "left", "baseline": "alphabetic", "dx": 5, "dy": 9, "fontSize": 10, "font": "DejaVu Sans Mono", "color": "#000000"},
  "encoding": {"x": {"datum": "2024-12-31", "type": "ordinal", "bandPosition": 0, "axis": {"title": null, "values": ["2025-01-13"], "bandPosition": 0, "labels": false, "ticks": false, "domain": false, "grid": false}},
   "y": {"datum": 60, "type": "quantitative", "axis": {"title": null, "values": [0, 20, 40, 60], "labelExpr": "datum.value == 0 ? 'x万' : datum.label", "labelColor": "#999999", "labelFont": "DejaVu Sans Mono, Noto Sans CJK SC", "labelFontSize": 10, "labelPadding": 5, "ticks": false, "domain": false, "grid": false, "labelOverlap": false}}, "text": {"value": "MA5:18"}}},
 {"data": {"values": [{}]}, "mark": {"type": "text", "align": "left", "baseline": "alphabetic", "dx": -1, "dy": 9, "fontSize": 10, "font": "DejaVu Sans Mono", "color": "#0000ff"},
  "encoding": {"x": {"datum": "2025-02-07", "type": "ordinal", "bandPosition": 0, "axis": {"title": null, "values": ["2025-01-13"], "bandPosition": 0, "labels": false, "ticks": false, "domain": false, "grid": false}},
   "y": {"datum": 60, "type": "quantitative", "axis": {"title": null, "values": [0, 20, 40, 60], "labelExpr": "datum.value == 0 ? 'x万' : datum.label", "labelColor": "#999999", "labelFont": "DejaVu Sans Mono, Noto Sans CJK SC", "labelFontSize": 10, "labelPadding": 5, "ticks": false, "domain": false, "grid": false, "labelOverlap": false}}, "text": {"value": "MA10:17"}}},
 {"data": {"values": [{}]}, "mark": {"type": "text", "align": "left", "baseline": "alphabetic", "dx": -1, "dy": 9, "fontSize": 10, "font": "DejaVu Sans Mono", "color": "#ff00ff"},
  "encoding": {"x": {"datum": "2025-03-07", "type": "ordinal", "bandPosition": 0, "axis": {"title": null, "values": ["2025-01-13"], "bandPosition": 0, "labels": false, "ticks": false, "domain": false, "grid": false}},
   "y": {"datum": 60, "type": "quantitative", "axis": {"title": null, "values": [0, 20, 40, 60], "labelExpr": "datum.value == 0 ? 'x万' : datum.label", "labelColor": "#999999", "labelFont": "DejaVu Sans Mono, Noto Sans CJK SC", "labelFontSize": 10, "labelPadding": 5, "ticks": false, "domain": false, "grid": false, "labelOverlap": false}}, "text": {"value": "MA30:19"}}},
 {"data": {"values": [{}]}, "mark": {"type": "text", "align": "left", "baseline": "alphabetic", "dx": 0, "dy": 12, "fontSize": 10, "font": "DejaVu Sans Mono", "color": "#555555"},
  "encoding": {"x": {"datum": "2024-12-31", "type": "ordinal", "bandPosition": 0, "axis": {"title": null, "values": ["2025-01-13"], "bandPosition": 0, "labels": false, "ticks": false, "domain": false, "grid": false}},
   "y": {"datum": 0, "type": "quantitative", "axis": {"title": null, "values": [0, 20, 40, 60], "labelExpr": "datum.value == 0 ? 'x万' : datum.label", "labelColor": "#999999", "labelFont": "DejaVu Sans Mono, Noto Sans CJK SC", "labelFontSize": 10, "labelPadding": 5, "ticks": false, "domain": false, "grid": false, "labelOverlap": false}}, "text": {"value": "Copyright 2025 SINA.COM"}}},
 {"data": {"values": [{}]}, "mark": {"type": "text", "align": "right", "baseline": "alphabetic", "dx": 5, "dy": 12, "fontSize": 10, "font": "DejaVu Sans Mono", "color": "#555555"},
  "encoding": {"x": {"datum": "2025-05-06", "type": "ordinal", "bandPosition": 0, "axis": {"title": null, "values": ["2025-01-13"], "bandPosition": 0, "labels": false, "ticks": false, "domain": false, "grid": false}},
   "y": {"datum": 0, "type": "quantitative", "axis": {"title": null, "values": [0, 20, 40, 60], "labelExpr": "datum.value == 0 ? 'x万' : datum.label", "labelColor": "#999999", "labelFont": "DejaVu Sans Mono, Noto Sans CJK SC", "labelFontSize": 10, "labelPadding": 5, "ticks": false, "domain": false, "grid": false, "labelOverlap": false}}, "text": {"value": "http://finance.sina.com.cn"}}}
]
}
]
}
